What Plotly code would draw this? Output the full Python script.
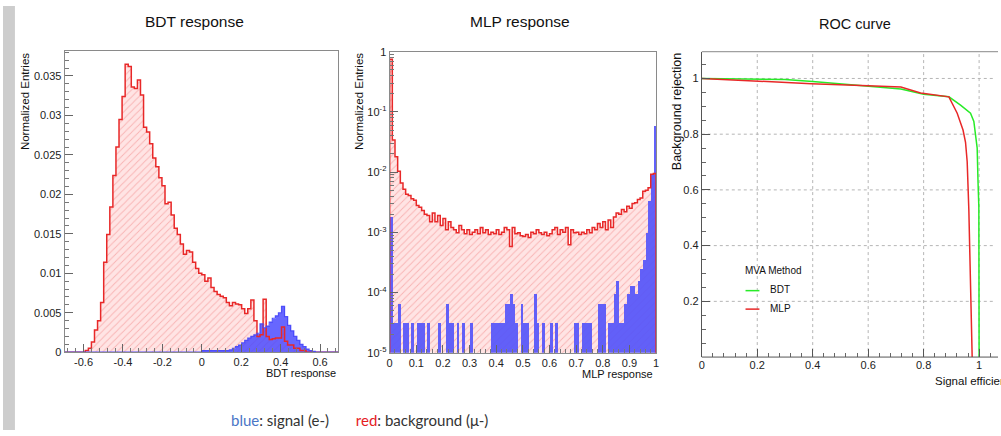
import plotly.graph_objects as go

W, H = 1001, 436


def fx(p):
    return p / W


def fy(p):
    return 1 - p / H


# ---------------- data ----------------
bdt_x_min, bdt_x_max, bdt_nbins = -0.7, 0.7, 90
bdt_background = [
    0, 0, 0, 0, 0, 0, 0, 0.0002, 0.0005, 0.0013,
    0.0028, 0.0040, 0.0063, 0.0114, 0.0149, 0.0184, 0.0224, 0.0260, 0.0295, 0.0324,
    0.0365, 0.0362, 0.0336, 0.0334, 0.0345, 0.0326, 0.0285, 0.0279, 0.0264, 0.0246,
    0.0235, 0.0221, 0.0211, 0.0188, 0.0190, 0.0174, 0.0157, 0.0149, 0.0137, 0.0124,
    0.0129, 0.0127, 0.0114, 0.0106, 0.0100, 0.0098, 0.0090, 0.0094, 0.0082, 0.0077,
    0.0073, 0.0071, 0.0069, 0.0063, 0.0059, 0.0063, 0.0061, 0.0060, 0.0055, 0.0049,
    0.0055, 0.0066, 0.0040, 0.0020, 0.0022, 0.0067, 0.0020, 0.0016, 0.0017, 0.0018,
    0.0018, 0.0032, 0.0014, 0.0009, 0.0009, 0.0005, 0.0005, 0.0002, 0.0002, 0,
    0, 0, 0, 0, 0, 0, 0, 0, 0, 0,
]
bdt_signal = [
    0, 0, 0, 0, 0, 0, 0, 0, 0, 0,
    0, 0, 0, 0, 0, 0, 0, 0, 0, 0,
    0, 0, 0, 0, 0, 0, 0, 0, 0, 0,
    0, 0, 0, 0, 0, 0, 0, 0, 0, 0,
    0, 0, 0, 0, 0, 0.0002, 0.0002, 0.0002, 0.0002, 0.0002,
    0.0002, 0.0002, 0.0002, 0.0002, 0.0003, 0.0005, 0.0007, 0.0009, 0.0012, 0.0015,
    0.0018, 0.0020, 0.0022, 0.0024, 0.0036, 0.0031, 0.0033, 0.0038, 0.0043, 0.0046,
    0.0050, 0.0058, 0.0045, 0.0034, 0.0027, 0.0020, 0.0015, 0.0010, 0.0007, 0.0004,
    0.0002, 0.0001, 0, 0, 0, 0, 0, 0, 0, 0,
]

mlp_x_min, mlp_x_max, mlp_nbins = 0.0, 1.0, 100
mlp_background = [
    0.75, 0.034, 0.018, 0.0103, 0.0066, 0.0052, 0.0043, 0.0041, 0.0036, 0.0034,
    0.0028, 0.0026, 0.0023, 0.0020, 0.0019, 0.0015, 0.0021, 0.0015, 0.0019, 0.0013,
    0.0017, 0.0011, 0.0015, 0.0012, 0.0011, 0.00098, 0.0013, 0.0011, 0.00095, 0.0011,
    0.00092, 0.0010, 0.0011, 0.00095, 0.0012, 0.00098, 0.0011, 0.00092, 0.0010, 0.00095,
    0.0011, 0.00092, 0.0010, 0.0012, 0.0011, 0.00058, 0.0012, 0.00095, 0.00098, 0.00088,
    0.00085, 0.00092, 0.00082, 0.0010, 0.00095, 0.0011, 0.00098, 0.00092, 0.0010, 0.00088,
    0.00095, 0.0011, 0.0012, 0.00092, 0.0011, 0.0010, 0.0012, 0.00062, 0.0011, 0.00098,
    0.0010, 0.00092, 0.0010, 0.00095, 0.0011, 0.00098, 0.0012, 0.0011, 0.0014, 0.0012,
    0.0015, 0.0011, 0.0016, 0.0012, 0.0018, 0.0021, 0.0020, 0.0024, 0.0022, 0.0027,
    0.0025, 0.0030, 0.0031, 0.0035, 0.0037, 0.0048, 0.0050, 0.0055, 0.0092, 0.0095,
]
mlp_signal = [
    0.0018, 3.2e-5, 3.2e-5, 6.4e-5, 0, 3.2e-5, 3.2e-5, 0, 3.2e-5, 0,
    3.2e-5, 3.2e-5, 3.2e-5, 0, 3.2e-5, 0, 0, 0, 3.2e-5, 0,
    0, 6.4e-5, 3.2e-5, 3.2e-5, 0, 3.2e-5, 0, 3.2e-5, 0, 0,
    3.2e-5, 0, 0, 0, 0, 0, 0, 0, 3.2e-5, 3.2e-5,
    3.2e-5, 3.2e-5, 3.2e-5, 6.4e-5, 6.4e-5, 9.6e-5, 6.4e-5, 3.2e-5, 0, 6.4e-5,
    3.2e-5, 3.2e-5, 0, 0, 9.6e-5, 3.2e-5, 0, 3.2e-5, 0, 0,
    3.2e-5, 0, 3.2e-5, 0, 0, 0, 0, 0, 0, 3.2e-5,
    3.2e-5, 0, 3.2e-5, 3.2e-5, 3.2e-5, 3.2e-5, 0, 0, 6.4e-5, 6.4e-5,
    6.4e-5, 0, 3.2e-5, 3.2e-5, 9.6e-5, 1.6e-4, 3.2e-5, 3.2e-5, 6.4e-5, 9.6e-5,
    1.28e-4, 1.28e-4, 9.6e-5, 1.6e-4, 2.5e-4, 3.5e-4, 0.001, 0.0034, 0.009, 0.058,
]

roc_bdt_eff = [0, 0.1, 0.2, 0.3, 0.4, 0.5, 0.6, 0.718, 0.8, 0.891, 0.933,
               0.969, 0.981, 0.988, 0.993, 0.996, 0.999, 1.0]
roc_bdt_rej = [1.0, 0.999, 0.998, 0.996, 0.989, 0.981, 0.974, 0.962, 0.943, 0.934, 0.904,
               0.875, 0.846, 0.80, 0.75, 0.63, 0.54, 0.0]
roc_mlp_eff = [0, 0.2, 0.395, 0.6, 0.718, 0.789, 0.891, 0.921, 0.942, 0.951, 0.957,
               0.963, 0.971, 0.975]
roc_mlp_rej = [1.0, 0.99, 0.981, 0.974, 0.969, 0.948, 0.934, 0.875, 0.815, 0.771, 0.701,
               0.526, 0.236, 0.0]

bdt_ticks = [-0.6, -0.4, -0.2, 0, 0.2, 0.4, 0.6]
bdt_ticktext = ["-0.6", "-0.4", "-0.2", "0", "0.2", "0.4", "0.6"]
bdt_yticks = [0, 0.005, 0.01, 0.015, 0.02, 0.025, 0.03, 0.035]
bdt_yticktext = ["0", "0.005", "0.01", "0.015", "0.02", "0.025", "0.03", "0.035"]
mlp_ticks = [0, 0.1, 0.2, 0.3, 0.4, 0.5, 0.6, 0.7, 0.8, 0.9, 1]
mlp_ticktext = ["0", "0.1", "0.2", "0.3", "0.4", "0.5", "0.6", "0.7", "0.8", "0.9", "1"]
mlp_yticks = [1e-5, 1e-4, 1e-3, 1e-2, 1e-1, 1]
mlp_yticktext = ["10<sup>-5</sup>", "10<sup>-4</sup>", "10<sup>-3</sup>",
                 "10<sup>-2</sup>", "10<sup>-1</sup>", "1"]
roc_ticks = [0, 0.2, 0.4, 0.6, 0.8, 1]
roc_ticktext = ["0", "0.2", "0.4", "0.6", "0.8", "1"]
roc_yticks = [0.2, 0.4, 0.6, 0.8, 1]
roc_yticktext = ["0.2", "0.4", "0.6", "0.8", "1"]

# ---------------- style ----------------
FONT = "Liberation Sans, Arial, sans-serif"
RED = "rgb(232,40,40)"
BLUE_FILL = "rgba(70,70,255,0.82)"
BLUE_LINE = "rgba(70,70,250,0.95)"
GREEN = "rgb(40,235,40)"
PINK_BG = "rgba(255,228,228,1)"
HATCH = "rgba(235,95,95,0.75)"
GRID = "#b5b5b5"


def hist_geom(x_min, x_max, n):
    w = (x_max - x_min) / n
    centers = [x_min + (i + 0.5) * w for i in range(n)]
    edges = [x_min + i * w for i in range(n + 1)]
    return w, centers, edges


fig = go.Figure()

# ---- BDT panel ----
w1, c1, e1 = hist_geom(bdt_x_min, bdt_x_max, bdt_nbins)
fig.add_trace(go.Bar(
    x=c1, y=bdt_background, width=w1, xaxis="x", yaxis="y",
    marker=dict(color=PINK_BG, line=dict(width=0),
                pattern=dict(shape="/", fgcolor=HATCH, size=5, solidity=0.18,
                             fillmode="overlay")),
    showlegend=False, hoverinfo="skip"))
fig.add_trace(go.Scatter(
    x=e1, y=bdt_background + [bdt_background[-1]], mode="lines",
    line=dict(color=RED, width=1.5, shape="hv"), xaxis="x", yaxis="y",
    showlegend=False, hoverinfo="skip"))
fig.add_trace(go.Bar(
    x=c1, y=bdt_signal, width=w1, xaxis="x", yaxis="y",
    marker=dict(color=BLUE_FILL, line=dict(width=0)),
    showlegend=False, hoverinfo="skip"))
fig.add_trace(go.Scatter(
    x=e1, y=bdt_signal + [bdt_signal[-1]], mode="lines",
    line=dict(color=BLUE_LINE, width=1.2, shape="hv"), xaxis="x", yaxis="y",
    showlegend=False, hoverinfo="skip"))

# ---- MLP panel ----
w2, c2, e2 = hist_geom(mlp_x_min, mlp_x_max, mlp_nbins)
fig.add_trace(go.Bar(
    x=c2, y=mlp_background, width=w2, xaxis="x2", yaxis="y2",
    marker=dict(color=PINK_BG, line=dict(width=0),
                pattern=dict(shape="/", fgcolor=HATCH, size=5, solidity=0.18,
                             fillmode="overlay")),
    showlegend=False, hoverinfo="skip"))
fig.add_trace(go.Bar(
    x=c2, y=mlp_signal, width=w2, xaxis="x2", yaxis="y2",
    marker=dict(color="rgba(85,85,250,0.92)", line=dict(width=0)),
    showlegend=False, hoverinfo="skip"))
fig.add_trace(go.Scatter(
    x=[mlp_x_min] + e2 + [mlp_x_max],
    y=[1e-8] + mlp_background + [mlp_background[-1], 1e-8], mode="lines",
    line=dict(color=RED, width=1.5, shape="hv"), xaxis="x2", yaxis="y2",
    showlegend=False, hoverinfo="skip"))

# ---- ROC panel ----
fig.add_trace(go.Scatter(
    x=roc_bdt_eff, y=roc_bdt_rej, mode="lines", line=dict(color=GREEN, width=1.5),
    xaxis="x3", yaxis="y3", showlegend=False, hoverinfo="skip"))
fig.add_trace(go.Scatter(
    x=roc_mlp_eff, y=roc_mlp_rej, mode="lines", line=dict(color=RED, width=1.5),
    xaxis="x3", yaxis="y3", showlegend=False, hoverinfo="skip"))

tickfont = dict(family=FONT, size=11, color="#222")
roctick = dict(family=FONT, size=11, color="#222")

common_x = dict(ticks="inside", ticklen=8, tickcolor="#666", tickwidth=1,
                showline=True, linecolor="#8a8a8a", linewidth=1, mirror=True,
                showgrid=False, zeroline=False, tickmode="array")
common_y = dict(ticks="inside", ticklen=8, tickcolor="#666", tickwidth=1,
                showline=True, linecolor="#8a8a8a", linewidth=1, mirror=True,
                showgrid=False, zeroline=False, tickmode="array")

ROC_X0 = 703
fig.update_layout(
    width=W, height=H, margin=dict(l=0, r=0, t=0, b=0),
    paper_bgcolor="white", plot_bgcolor="white",
    barmode="overlay", bargap=0, showlegend=False,
    xaxis=dict(domain=[fx(62), fx(337)], range=[-0.696, 0.691], anchor="y",
               tickvals=bdt_ticks, ticktext=bdt_ticktext, tickfont=tickfont,
               minor=dict(ticks="inside", ticklen=4, tickcolor="#777", tick0=-0.6,
                          dtick=0.04, showgrid=False),
               **common_x),
    yaxis=dict(domain=[fy(356), fy(46)], range=[0, 0.0382], anchor="x",
               tickvals=bdt_yticks, ticktext=bdt_yticktext, tickfont=tickfont,
               minor=dict(ticks="inside", ticklen=4, tickcolor="#777", tick0=0,
                          dtick=0.001, showgrid=False),
               **common_y),
    xaxis2=dict(domain=[fx(389), fx(657)], range=[0, 1], anchor="y2",
                tickvals=mlp_ticks, ticktext=mlp_ticktext, tickfont=tickfont,
                minor=dict(ticks="inside", ticklen=4, tickcolor="#777", tick0=0,
                           dtick=0.02, showgrid=False),
                **common_x),
    yaxis2=dict(domain=[fy(356.5), fy(47)], type="log", range=[-5, 0], anchor="x2",
                tickvals=mlp_yticks, ticktext=mlp_yticktext, tickfont=tickfont,
                minor=dict(ticks="inside", ticklen=4, tickcolor="#777", dtick="D1",
                           showgrid=False),
                **common_y),
    xaxis3=dict(domain=[fx(ROC_X0), 1.0], range=[0, (W - ROC_X0) / 279.0], anchor="y3",
                tickvals=roc_ticks, ticktext=roc_ticktext, tickfont=roctick,
                showgrid=False, ticks="inside", ticklen=8, tickcolor="#555",
                showline=False, zeroline=False, tickmode="array",
                minor=dict(ticks="inside", ticklen=4, tickcolor="#666", tick0=0,
                           dtick=0.04, showgrid=False)),
    yaxis3=dict(domain=[fy(361), fy(47)], range=[0, 1.096], anchor="x3",
                tickvals=roc_yticks, ticktext=roc_yticktext, tickfont=roctick,
                showgrid=False, ticks="inside", ticklen=8, tickcolor="#555",
                showline=True, linecolor="#555", linewidth=1, mirror=False,
                zeroline=False, tickmode="array",
                minor=dict(ticks="inside", ticklen=4, tickcolor="#666", tick0=0,
                           dtick=0.05, showgrid=False)),
)

ann = []


def text(x, y, s, size, family=FONT, xanchor="center", yanchor="middle", angle=0,
         color="#111"):
    ann.append(dict(x=fx(x), y=fy(y), xref="paper", yref="paper", text=s,
                    showarrow=False, xanchor=xanchor, yanchor=yanchor, textangle=angle,
                    font=dict(family=family, size=size, color=color)))


# titles
text(193, 16, "BDT response", 15.5)
text(520, 16, "MLP response", 15.5)
text(857, 19, "ROC curve", 14.5)
# y titles
text(22, 46, "Normalized Entries", 11.5, yanchor="top", angle=-90)
text(358, 46, "Normalized Entries", 11.5, yanchor="top", angle=-90)
text(678, 46, "Background rejection", 12.5, yanchor="top", angle=-90)
# x titles
text(337, 377, "BDT response", 11, xanchor="right")
text(656, 378, "MLP response", 11, xanchor="right")
text(936, 386, "Signal efficiency", 11.5, xanchor="left")
# ROC legend
text(744, 272, "MVA Method", 10, xanchor="left")
text(770, 292, "BDT", 10, xanchor="left")
text(770, 311, "MLP", 10, xanchor="left")
# caption
nb = "\u00a0"
text(227, 426,
     '<span style="color:#4a76c6">blue</span>: signal (e-)' + nb * 7 +
     '<span style="color:#e5201f">red</span>: background (\u03bc-)',
     15, family="Lato, Carlito, Calibri, sans-serif", xanchor="left", color="#333")

fig.update_layout(annotations=ann)

shapes = [
    dict(type="rect", xref="paper", yref="paper", x0=0, x1=fx(12), y0=0, y1=1,
         fillcolor="#cdcdcd", line=dict(width=0), layer="below"),
]
# dotted ROC grid at the major tick positions
for v in roc_ticks[1:]:
    shapes.append(dict(type="line", xref="x3", yref="y3 domain", x0=v, x1=v, y0=0, y1=1,
                       line=dict(color=GRID, width=1, dash="dot"), layer="below"))
for v in roc_yticks:
    shapes.append(dict(type="line", xref="x3 domain", yref="y3", x0=0, x1=1, y0=v, y1=v,
                       line=dict(color=GRID, width=1, dash="dot"), layer="below"))
shapes += [
    # mask the right edge of the ROC panel (the frame is cut off there)
    dict(type="rect", xref="paper", yref="paper", x0=fx(996.5), x1=1.0,
         y0=fy(360), y1=fy(48), fillcolor="white", line=dict(width=0), layer="above"),
    # ROC frame: bottom axis line and top frame line only (right side is cut off)
    dict(type="line", xref="paper", yref="paper", x0=fx(ROC_X0), x1=1.0,
         y0=fy(361), y1=fy(361), line=dict(color="#555", width=1)),
    dict(type="line", xref="paper", yref="paper", x0=fx(ROC_X0), x1=1.0,
         y0=fy(47), y1=fy(47), line=dict(color="#888", width=1)),
    dict(type="line", xref="paper", yref="paper", x0=fx(747), x1=fx(761),
         y0=fy(292.7), y1=fy(292.7), line=dict(color=GREEN, width=1.5)),
    dict(type="line", xref="paper", yref="paper", x0=fx(747), x1=fx(761),
         y0=fy(311.7), y1=fy(311.7), line=dict(color=RED, width=1.5)),
]
fig.update_layout(shapes=shapes)

fig.write_html("out.html")
